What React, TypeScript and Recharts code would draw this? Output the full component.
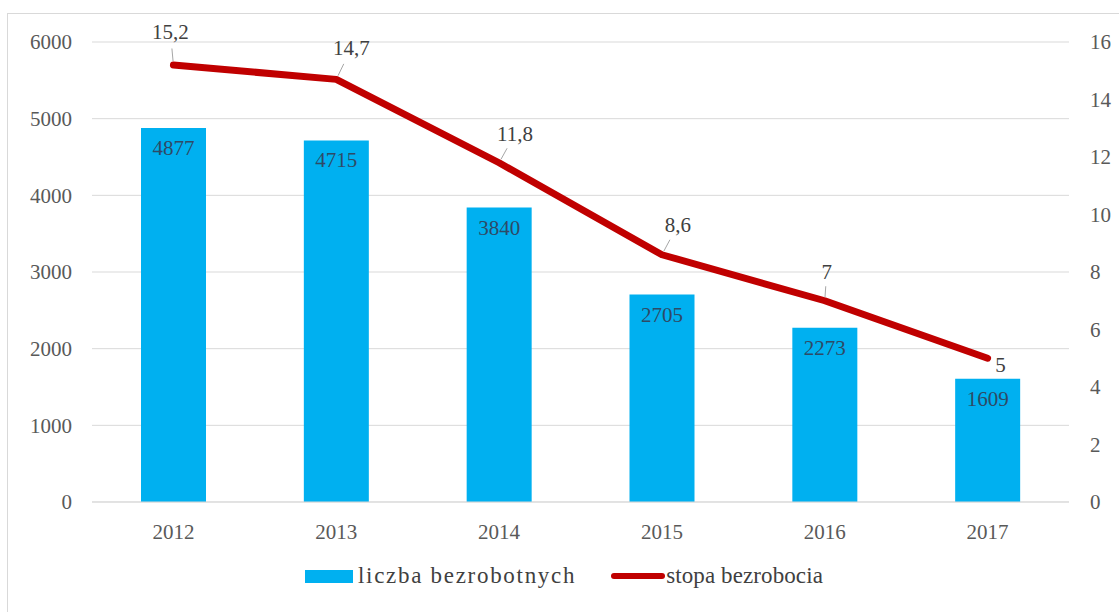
import {
	Bar,
	CartesianGrid,
	ComposedChart,
	LabelList,
	Legend,
	Line,
	XAxis,
	YAxis,
} from "recharts";

const years = ["2012", "2013", "2014", "2015", "2016", "2017"];
const unemployedCount = [4877, 4715, 3840, 2705, 2273, 1609];
const unemploymentRate = [15.2, 14.7, 11.8, 8.6, 7, 5];
const countTicks = [0, 1000, 2000, 3000, 4000, 5000, 6000];
const rateTicks = [0, 2, 4, 6, 8, 10, 12, 14, 16];

const data = years.map((year, i) => ({
	year,
	count: unemployedCount[i],
	rate: unemploymentRate[i],
}));

const FONT = '"Liberation Serif", "Times New Roman", serif';
const BAR_COLOR = "#00B0F0";
const LINE_COLOR = "#C00000";
const TICK_COLOR = "#595959";
const FS = 21;

// where each rate label sits relative to its point (last one has no leader)
const RATE_LABEL_OFFSETS: [number, number][] = [
	[-3, -33],
	[15, -31],
	[16, -29],
	[16, -30],
	[2, -29],
	[13, 7],
];

const fmt = (v: number) => String(v).replace(".", ",");

function RateLabel(props: any) {
	const { x, y, value, index } = props;
	const [dx, dy] = RATE_LABEL_OFFSETS[index] ?? [0, -30];
	const leader = index < RATE_LABEL_OFFSETS.length - 1;
	return (
		<g>
			{leader && (
				<line
					x1={x + dx * 0.12}
					y1={y + dy * 0.12}
					x2={x + dx * 0.5}
					y2={y + dy * 0.5}
					stroke="#a6a6a6"
					strokeWidth={1}
				/>
			)}
			<text
				x={x + dx}
				y={y + dy}
				textAnchor="middle"
				dominantBaseline="central"
				fontSize={FS}
				fontFamily={FONT}
				fill="#404040"
			>
				{fmt(value)}
			</text>
		</g>
	);
}

function LegendContent() {
	return (
		<div
			style={{
				display: "flex",
				justifyContent: "center",
				alignItems: "center",
				fontFamily: FONT,
				fontSize: 23,
				color: "#404040",
				paddingLeft: 9,
			}}
		>
			<span
				style={{
					display: "inline-block",
					width: 48,
					height: 13,
					background: BAR_COLOR,
					marginRight: 5,
				}}
			/>
			<span style={{ marginRight: 35, letterSpacing: 1.7 }}>
				liczba bezrobotnych
			</span>
			<span
				style={{
					display: "inline-block",
					width: 54,
					height: 6,
					borderRadius: 3,
					background: LINE_COLOR,
					marginRight: 1,
				}}
			/>
			<span style={{ letterSpacing: 0.1 }}>stopa bezrobocia</span>
		</div>
	);
}

export default function App() {
	return (
		<div
			style={{
				position: "absolute",
				left: 0,
				top: 0,
				width: 1119,
				height: 612,
				overflow: "hidden",
				background: "#fff",
				fontFamily: FONT,
			}}
		>
			<div
				style={{
					position: "absolute",
					left: 7,
					top: 13,
					width: 1200,
					height: 700,
					border: "1px solid #d9d9d9",
				}}
			/>
			<ComposedChart
				width={1119}
				height={612}
				data={data}
				margin={{ top: 42, right: 0, bottom: 20, left: 0 }}
				style={{ position: "absolute", left: 0, top: 0, fontFamily: FONT }}
			>
				<CartesianGrid
					yAxisId="left"
					vertical={false}
					stroke="#d9d9d9"
					strokeWidth={1}
				/>
				<XAxis
					dataKey="year"
					height={50}
					tickLine={false}
					axisLine={{ stroke: "#d9d9d9" }}
					tickSize={0}
					tickMargin={22}
					tick={{ fill: TICK_COLOR, fontSize: FS, fontFamily: FONT }}
				/>
				<YAxis
					yAxisId="left"
					width={92}
					domain={[0, 6000]}
					ticks={countTicks}
					axisLine={false}
					tickLine={false}
					tickSize={0}
					tickMargin={20}
					tick={{ fill: TICK_COLOR, fontSize: FS, fontFamily: FONT }}
				/>
				<YAxis
					yAxisId="right"
					orientation="right"
					width={50}
					domain={[0, 16]}
					ticks={rateTicks}
					axisLine={false}
					tickLine={false}
					tickSize={0}
					tickMargin={21}
					tick={{ fill: TICK_COLOR, fontSize: FS, fontFamily: FONT }}
				/>
				<Legend
					height={40}
					content={<LegendContent />}
					wrapperStyle={{ left: 0, width: 1119, top: 563 }}
				/>
				<Bar
					yAxisId="left"
					dataKey="count"
					name="liczba bezrobotnych"
					fill={BAR_COLOR}
					barSize={65}
					isAnimationActive={false}
				>
					<LabelList
						dataKey="count"
						position="insideTop"
						offset={12}
						fill="#2e4a66"
						fontSize={FS}
						fontFamily={FONT}
					/>
				</Bar>
				<Line
					yAxisId="right"
					dataKey="rate"
					name="stopa bezrobocia"
					type="linear"
					stroke={LINE_COLOR}
					strokeWidth={7}
					strokeLinecap="round"
					strokeLinejoin="round"
					dot={false}
					activeDot={false}
					isAnimationActive={false}
				>
					<LabelList dataKey="rate" content={<RateLabel />} />
				</Line>
			</ComposedChart>
		</div>
	);
}
